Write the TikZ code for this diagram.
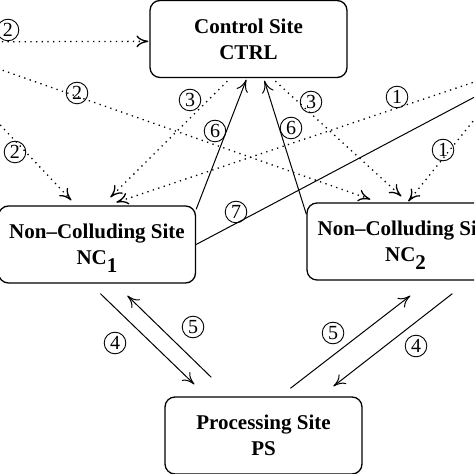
\documentclass[tikz,border=0pt]{standalone}
\usepackage{fontspec}
\setmainfont{Liberation Serif}
\usetikzlibrary{arrows.meta,calc}
\begin{document}
\begin{tikzpicture}[x=0.5pt,y=-0.5pt,
  site/.style={draw,line width=0.65pt,rounded corners=5pt,minimum width=98.5pt,minimum height=38.5pt,inner sep=0pt,align=center,font=\fontsize{10.5}{13}\selectfont\bfseries},
  tip/.style={-{Computer Modern Rightarrow[length=6pt,width=6pt]}},
  msg/.style={line width=0.5pt,tip},
  plain/.style={line width=0.5pt},
  dots/.style={line width=0.65pt,dash pattern=on 0.65pt off 2.2pt,tip},
  num/.style={draw,circle,line width=0.45pt,minimum size=10.8pt,inner sep=0pt,font=\fontsize{10}{10}\selectfont}]
\useasboundingbox (0,0) rectangle (474,474);
\fill[white] (0,0) rectangle (474,474);
\clip (0,0) rectangle (474,474);

\node[site] (ctrl) at (248.5,39) {Control Site\\CTRL};
\node[site] (nc1) at (97,244.5) {Non--Colluding Site\\NC\smash{\raisebox{-4pt}{1}}};
\node[site] (nc2) at (405.5,241.5) {Non--Colluding Site\\NC\smash{\raisebox{-4pt}{2}}};
\node[site] (ps) at (263.5,435.5) {Processing Site\\PS};

\coordinate (lsrc) at (-78,42);
\coordinate (rsrc) at (516,68);
\coordinate (r7) at (520,73);

% dotted messages from the left
\draw[dots] (lsrc) -- ($(ctrl.north west)+(-1,41.5)$);
\draw[dots] (lsrc) -- ($(nc2.north west)+(64,-3)$);
\draw[dots] (lsrc) -- ($(nc1.north west)+(73.5,-5)$);
% dotted messages from the right
\draw[dots] (rsrc) -- ($(nc1.north west)+(118.5,-3)$);
\draw[dots] (rsrc) -- ($(nc2.north west)+(102,-1)$);
% dotted messages from control
\draw[dots] ($(ctrl.south west)+(78,3)$) -- ($(nc1.north west)+(112.5,-8)$);
\draw[dots] ($(ctrl.south west)+(126,3)$) -- ($(nc2.north west)+(95,-6)$);
% solid messages
\draw[msg] ($(nc1.north east)+(0,4)$) -- ($(ctrl.south west)+(97,1.5)$);
\draw[msg] ($(nc2.north west)+(0,12)$) -- ($(ctrl.south west)+(115,2.5)$);
\draw[plain] (nc1.east) -- (r7);
\draw[msg] ($(nc1.south west)+(102.5,10)$) -- ($(ps.north west)+(30,-12)$);
\draw[msg] ($(ps.north west)+(47,-19)$) -- ($(nc1.south west)+(129.5,12)$);
\draw[msg] ($(ps.north west)+(126,-8)$) -- ($(nc2.south west)+(104,15)$);
\draw[msg] ($(nc2.south west)+(146,13)$) -- ($(ps.north west)+(169,-10)$);

% step labels
\node[num] (n2a) at (8,30) {2};
\node[num] (n2b) at (77,93) {2};
\node[num] (n2c) at (15,152) {2};
\node[num] (n3a) at (190,100) {3};
\node[num] (n3b) at (311,102) {3};
\node[num] (n6a) at (215,131) {6};
\node[num] (n6b) at (291,128) {6};
\node[num] (n1a) at (397,97) {1};
\node[num] (n1b) at (443,150) {1};
\node[num] (n7) at (236,212) {7};
\node[num] (n4a) at (115,343) {4};
\node[num] (n5a) at (193,327) {5};
\node[num] (n5b) at (333,333) {5};
\node[num] (n4b) at (416,346) {4};
\end{tikzpicture}
\end{document}
